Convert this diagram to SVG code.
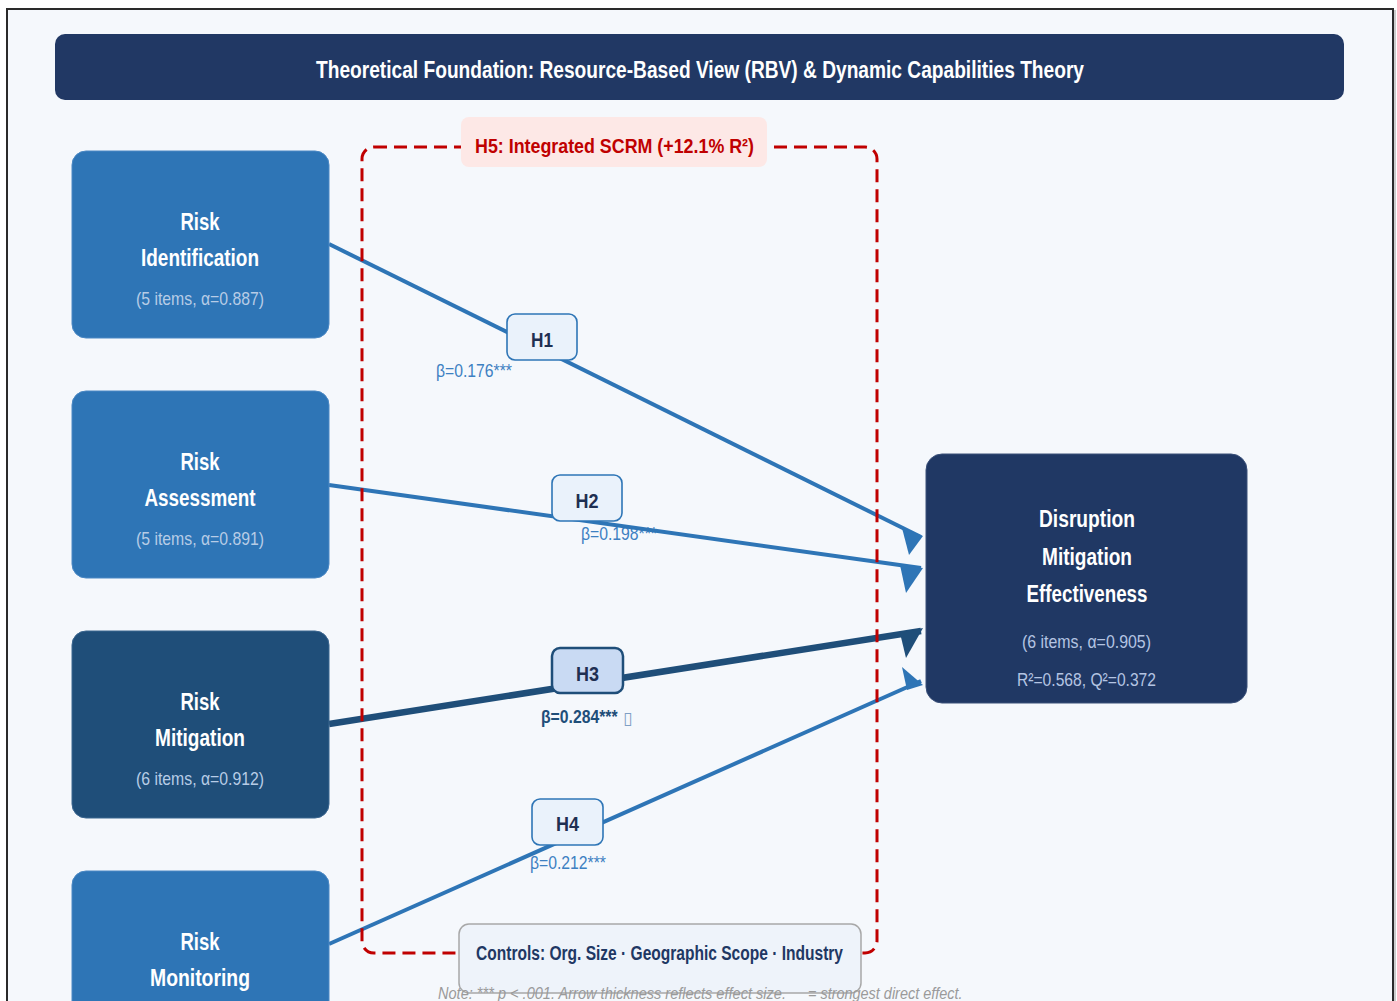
<svg xmlns="http://www.w3.org/2000/svg" width="1397" height="1001" viewBox="0 0 1397 1001">
  <style>
    .frame { fill: #f5f8fc; stroke: #2a2a2a; stroke-width: 2; }
    .cond { font-family: "Liberation Sans Narrow", "Arial Narrow", "Liberation Sans", sans-serif; }
    .title { font-size: 23px; font-weight: bold; fill: #ffffff; text-anchor: middle; }
    .node-lbl { font-size: 23px; font-weight: bold; fill: #ffffff; text-anchor: middle; }
    .node-sub { font-size: 19px; fill: #b7cce6; text-anchor: middle; }
    .tgt-sub { font-size: 19px; fill: #b4c4e2; text-anchor: middle; }
    .src { fill: #2e75b6; stroke: #4a88c4; stroke-width: 1; }
    .src-dark { fill: #1f4e79; stroke: #3b6690; stroke-width: 1; }
    .tgt { fill: #203864; stroke: #3a5079; stroke-width: 1; }
    .hbox { fill: #eaf2fb; stroke: #2e75b6; stroke-width: 1.6; }
    .hbox-strong { fill: #c9daf3; stroke: #1f4e79; stroke-width: 2.5; }
    .htxt { font-size: 20px; font-weight: bold; fill: #1f2f52; text-anchor: middle; }
    .beta { font-size: 19px; fill: #3d80c2; }
    .beta-strong { font-size: 19px; font-weight: bold; fill: #1f4e79; }
    .note { font-size: 17px; font-style: italic; fill: #9a9a9a; }
    .path { fill: none; stroke: #2e75b6; stroke-width: 4; }
    .path-strong { fill: none; stroke: #1f4e79; stroke-width: 6.5; }
    .head { fill: #2e75b6; }
    .head-strong { fill: #1f4e79; }
    .scope { fill: none; stroke: #c00000; stroke-width: 3; stroke-dasharray: 13 7; }
  </style>

  <!-- page frame -->
  <rect x="0" y="0" width="1397" height="1001" fill="#ffffff"/>
  <rect class="frame" x="7" y="9" width="1386" height="1010"/>
  <line x1="1395" y1="10" x2="1395" y2="1001" stroke="#9a9a9a" stroke-width="1"/>

  <!-- header banner -->
  <g id="header">
    <rect x="55" y="34" width="1289" height="66" rx="10" fill="#213864"/>
    <text class="cond title" x="700" y="78" textLength="768" lengthAdjust="spacingAndGlyphs">Theoretical Foundation: Resource-Based View (RBV) &amp; Dynamic Capabilities Theory</text>
  </g>

  <!-- path coefficients (drawn beneath the paths) -->
  <g id="coefficients" class="cond">
    <text class="beta" x="436" y="377" textLength="76" lengthAdjust="spacingAndGlyphs">β=0.176***</text>
    <text class="beta" x="581" y="540" textLength="76" lengthAdjust="spacingAndGlyphs">β=0.198***</text>
    <text class="beta-strong" transform="translate(541,723) scale(0.83,1)">β=0.284***</text>
    <text x="623" y="724" font-family="DejaVu Sans, sans-serif" font-size="17" fill="#7f9fc4">▯</text>
    <text class="beta" x="530" y="869" textLength="76" lengthAdjust="spacingAndGlyphs">β=0.212***</text>
  </g>

  <!-- structural paths -->
  <g id="connectors">
    <line class="path" x1="329" y1="244" x2="921" y2="537"/>
    <path class="head" d="M902,528 L923,536 L909,555 Z"/>
    <line class="path" x1="329" y1="485" x2="921" y2="568"/>
    <path class="head" d="M900,565 L923,568 L906,593 Z"/>
    <line class="path-strong" x1="329" y1="724" x2="921" y2="631"/>
    <path class="head-strong" d="M900,633 L923,628 L906,658 Z"/>
    <line class="path" x1="329" y1="944" x2="921" y2="681"/>
    <path class="head" d="M902,667 L923,685 L907,690 Z"/>
  </g>

  <!-- hypothesis tags -->
  <g id="h1">
    <rect class="hbox" x="507" y="314" width="70" height="46" rx="8"/>
    <text class="cond htxt" x="542" y="347" textLength="22" lengthAdjust="spacingAndGlyphs">H1</text>
  </g>
  <g id="h2">
    <rect class="hbox" x="552" y="475" width="70" height="46" rx="8"/>
    <text class="cond htxt" x="587" y="508" textLength="23" lengthAdjust="spacingAndGlyphs">H2</text>
  </g>
  <g id="h3">
    <rect class="hbox-strong" x="552" y="648" width="71" height="45" rx="8"/>
    <text class="cond htxt" x="587.5" y="681" textLength="23" lengthAdjust="spacingAndGlyphs">H3</text>
  </g>
  <g id="h4">
    <rect class="hbox" x="532" y="799" width="71" height="46" rx="8"/>
    <text class="cond htxt" x="567.5" y="831" textLength="23" lengthAdjust="spacingAndGlyphs">H4</text>
  </g>

  <!-- integrated SCRM scope (H5) -->
  <g id="h5">
    <rect class="scope" x="362" y="147" width="515" height="806" rx="12"/>
    <rect x="461" y="117" width="306" height="50" rx="8" fill="#fde8e6"/>
    <text class="cond" x="614.5" y="153" font-size="21" font-weight="bold" fill="#c00000" text-anchor="middle" textLength="279" lengthAdjust="spacingAndGlyphs">H5: Integrated SCRM (+12.1% R²)</text>
  </g>

  <!-- predictor constructs -->
  <g id="risk-identification">
    <rect class="src" x="72" y="151" width="257" height="187" rx="14"/>
    <text class="cond node-lbl" x="200" y="230" textLength="39" lengthAdjust="spacingAndGlyphs">Risk</text>
    <text class="cond node-lbl" x="200" y="266" textLength="118" lengthAdjust="spacingAndGlyphs">Identification</text>
    <text class="cond node-sub" x="200" y="305" textLength="128" lengthAdjust="spacingAndGlyphs">(5 items, α=0.887)</text>
  </g>
  <g id="risk-assessment">
    <rect class="src" x="72" y="391" width="257" height="187" rx="14"/>
    <text class="cond node-lbl" x="200" y="470" textLength="39" lengthAdjust="spacingAndGlyphs">Risk</text>
    <text class="cond node-lbl" x="200" y="506" textLength="111" lengthAdjust="spacingAndGlyphs">Assessment</text>
    <text class="cond node-sub" x="200" y="545" textLength="128" lengthAdjust="spacingAndGlyphs">(5 items, α=0.891)</text>
  </g>
  <g id="risk-mitigation">
    <rect class="src-dark" x="72" y="631" width="257" height="187" rx="14"/>
    <text class="cond node-lbl" x="200" y="710" textLength="39" lengthAdjust="spacingAndGlyphs">Risk</text>
    <text class="cond node-lbl" x="200" y="746" textLength="90" lengthAdjust="spacingAndGlyphs">Mitigation</text>
    <text class="cond node-sub" x="200" y="785" textLength="128" lengthAdjust="spacingAndGlyphs">(6 items, α=0.912)</text>
  </g>
  <g id="risk-monitoring">
    <rect class="src" x="72" y="871" width="257" height="187" rx="14"/>
    <text class="cond node-lbl" x="200" y="950" textLength="39" lengthAdjust="spacingAndGlyphs">Risk</text>
    <text class="cond node-lbl" x="200" y="986" textLength="100" lengthAdjust="spacingAndGlyphs">Monitoring</text>
  </g>

  <!-- outcome construct -->
  <g id="disruption-mitigation">
    <rect class="tgt" x="926" y="454" width="321" height="249" rx="16"/>
    <text class="cond node-lbl" x="1087" y="527" textLength="96" lengthAdjust="spacingAndGlyphs">Disruption</text>
    <text class="cond node-lbl" x="1087" y="565" textLength="90" lengthAdjust="spacingAndGlyphs">Mitigation</text>
    <text class="cond node-lbl" x="1087" y="602" textLength="121" lengthAdjust="spacingAndGlyphs">Effectiveness</text>
    <text class="cond tgt-sub" x="1086.5" y="648" textLength="129" lengthAdjust="spacingAndGlyphs">(6 items, α=0.905)</text>
    <text class="cond tgt-sub" x="1086.5" y="686" textLength="139" lengthAdjust="spacingAndGlyphs">R²=0.568, Q²=0.372</text>
  </g>

  <!-- control variables -->
  <g id="controls">
    <rect x="459" y="924" width="402" height="69" rx="10" fill="#eef3fa" stroke="#a8a8a8" stroke-width="1.5"/>
    <text class="cond" x="659.5" y="960" font-size="20" font-weight="bold" fill="#1f3864" text-anchor="middle" textLength="367" lengthAdjust="spacingAndGlyphs">Controls: Org. Size · Geographic Scope · Industry</text>
  </g>

  <!-- footnote -->
  <g id="footnote" class="cond">
    <text class="note" transform="translate(438,999) scale(0.857,1)">Note: *** p &lt; .001. Arrow thickness reflects effect size.</text>
    <text class="note" transform="translate(808,999) scale(0.85,1)">= strongest direct effect.</text>
  </g>
</svg>
